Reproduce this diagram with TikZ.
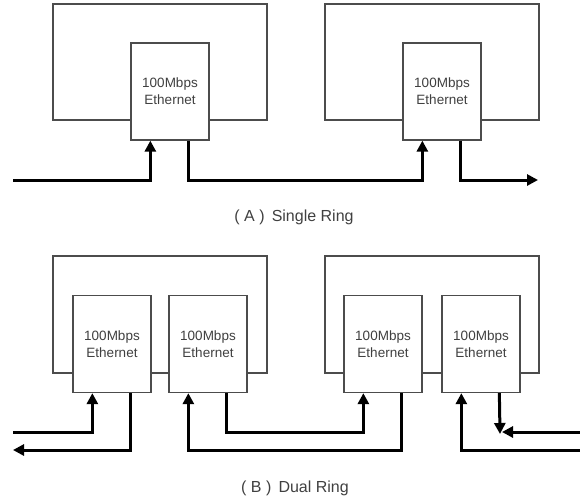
\documentclass[tikz,border=0pt]{standalone}
\usepackage{fontspec}
\setmainfont{Liberation Sans}
\usepackage{xcolor}
\usepackage{tikz}
\usetikzlibrary{arrows.meta}

\begin{document}
\begin{tikzpicture}[x=1pt, y=-1pt,
    frame/.style={draw=black!70, line width=1.3pt},
    card/.style={draw=black!70, line width=1.3pt, fill=white, minimum width=78pt, minimum height=97pt, inner sep=0pt, align=center, text=black!75, font=\fontsize{13.5}{17}\selectfont},
    link/.style={line width=3pt, -{Triangle[length=11pt, width=11pt]}},
    caption/.style={text=black!75, font=\fontsize{16}{18}\selectfont}]
    \useasboundingbox (0,0) rectangle (580,501);
    % (A) single ring
    \draw[frame] (53,4) rectangle (267,120);
    \draw[frame] (325,4) rectangle (539,120);
    \node[card] (a1) at (170,91.5) {100Mbps\\Ethernet};
    \node[card] (a2) at (442,91.5) {100Mbps\\Ethernet};
    \coordinate (a1in) at ([xshift=20pt]a1.south west);
    \coordinate (a1out) at ([xshift=58pt]a1.south west);
    \coordinate (a2in) at ([xshift=20pt]a2.south west);
    \coordinate (a2out) at ([xshift=58pt]a2.south west);
    \coordinate (ain) at (13,180);
    \coordinate (aout) at (538,180);
    \draw[link] (ain) -| (a1in);
    \draw[link] (a1out) |- (a2in |- ain) -- (a2in);
    \draw[link] (a2out) |- (aout);
    \node[caption] (capa) at (294,217) {( A )\, Single Ring};
    % (B) dual ring
    \draw[frame] (53,256) rectangle (267,373);
    \draw[frame] (325,256) rectangle (539,373);
    \node[card] (b1) at (112,344) {100Mbps\\Ethernet};
    \node[card] (b2) at (208,344) {100Mbps\\Ethernet};
    \node[card] (b3) at (383,344) {100Mbps\\Ethernet};
    \node[card] (b4) at (481,344) {100Mbps\\Ethernet};
    \coordinate (b1in) at ([xshift=20pt]b1.south west);
    \coordinate (b1out) at ([xshift=58pt]b1.south west);
    \coordinate (b2in) at ([xshift=20pt]b2.south west);
    \coordinate (b2out) at ([xshift=58pt]b2.south west);
    \coordinate (b3in) at ([xshift=20pt]b3.south west);
    \coordinate (b3out) at ([xshift=58pt]b3.south west);
    \coordinate (b4in) at ([xshift=20pt]b4.south west);
    \coordinate (b4out) at ([xshift=58pt]b4.south west);
    \coordinate (bin) at (13,432);
    \coordinate (bout) at (13,450);
    \coordinate (cin) at (580,432);
    \coordinate (cout) at (580,450);
    \coordinate (meet) at (500,432);
    \draw[link] (bin) -| (b1in);
    \draw[link] (b1out) |- (bout);
    \draw[link] (b2out) |- (b3in |- bin) -- (b3in);
    \draw[link] (b3out) |- (b2in |- bout) -- (b2in);
    \draw[link] (cout) -| (b4in);
    \draw[link] (b4out) -- ([yshift=-2pt]meet);
    \draw[link] (cin) -- ([xshift=2pt]meet);
    \node[caption] (capb) at (295,488) {( B )\, Dual Ring};
\end{tikzpicture}
\end{document}
